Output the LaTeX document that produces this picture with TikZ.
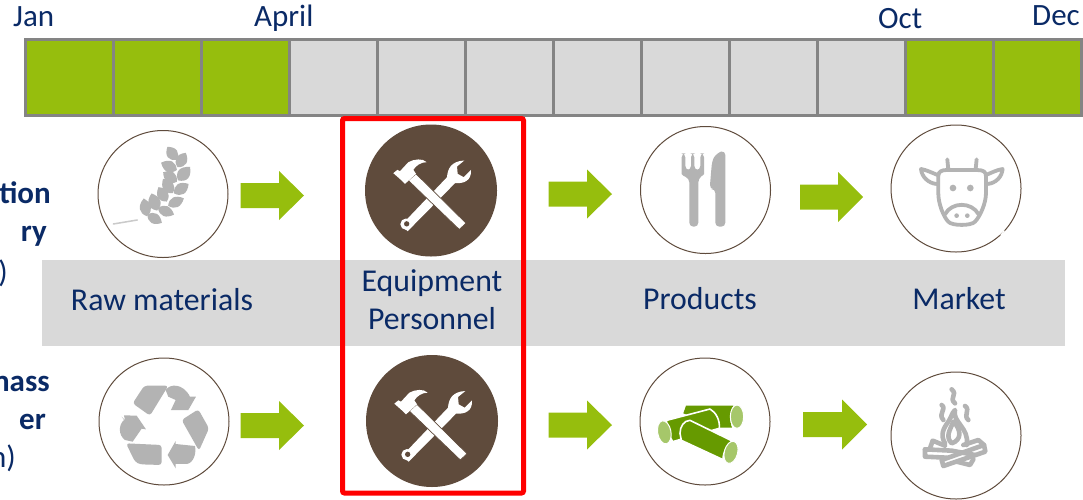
\documentclass[tikz,border=0pt]{standalone}
\usepackage{fontspec}
\usetikzlibrary{shapes.geometric}
\setmainfont{Carlito}
\definecolor{lime}{HTML}{96BE0D}
\definecolor{cellgray}{HTML}{D9D9D9}
\definecolor{cellline}{HTML}{848484}
\definecolor{navy}{HTML}{0A2A66}
\definecolor{brownc}{HTML}{5F4B3C}
\definecolor{icong}{HTML}{B3B3B3}
\definecolor{logd}{HTML}{669A00}
\definecolor{logl}{HTML}{A6C76A}
\tikzset{
 cell/.style={draw=cellline,line width=3pt,minimum width=88pt,minimum height=76pt,inner sep=0pt,outer sep=0pt},
 ring/.style={draw=brownc,line width=1pt,fill=white,ellipse,inner sep=0pt,minimum width=130pt,minimum height=127pt},
 toolc/.style={fill=brownc,circle,inner sep=0pt,minimum size=132pt},
 lab/.style={text=navy,font=\fontsize{31.8}{34}\selectfont,inner sep=0pt},
 mon/.style={text=navy,font=\fontsize{31}{34}\selectfont,inner sep=0pt},
 side/.style={text=navy,font=\fontsize{31}{34}\selectfont\bfseries,inner sep=0pt,anchor=base east},
 sidep/.style={text=navy,font=\fontsize{31}{34}\selectfont,inner sep=0pt,anchor=base east},
 zoomed/.style={x=0.3333pt,y=-0.3333pt},
 gline/.style={draw=icong,line width=3.8pt,line cap=round,line join=round},
 fline/.style={draw=icong,line width=4.6pt,line cap=round,line join=round},
 logbody/.style={fill=logd,draw=white,line width=1.6pt,line join=round},
 logend/.style={fill=logl,draw=white,line width=1pt},
}
\newcommand\blockarrow[6]{% xstart xhead xtip ycentre halfshaft halfhead
 \fill[lime] (#1,#4-#5) -- (#2,#4-#5) -- (#2,#4-#6) -- (#3,#4) -- (#2,#4+#6) -- (#2,#4+#5) -- (#1,#4+#5) -- cycle;}
\newcommand\wgrain[5]{\fill[icong,shift={(#1,#2)},rotate=#3] (-#4,0) .. controls (-0.5*#4,1.75*#5) and (0.3*#4,1.75*#5) .. (#4,0) .. controls (0.3*#4,-1.75*#5) and (-0.5*#4,-1.75*#5) .. (-#4,0) -- cycle;}
\newcommand\toolsicon[2]{%
\begin{scope}[shift={(#1,#2)},zoomed]
 % wrench
 \fill[white] (-90,105) -- (-70,122) -- (72,-22) -- (50,-42) -- cycle;
 \fill[white] (-75,101) circle[radius=17];
 \fill[brownc] (-73,100) circle[radius=8];
 \fill[white] (48,-40) .. controls (50,-65) and (60,-88) .. (100,-90) -- (78,-72) -- (80,-50) -- (98,-40) -- (120,-62) .. controls (122,-30) and (100,-20) .. (70,-22) -- cycle;
 % hammer
 \fill[white,draw=brownc,line width=0.7pt] (-68,-30) -- (-45,-50) -- (105,98) -- (85,117) -- cycle;
 \fill[white] (-113,-52) -- (-101,-62) -- (-93,-58) -- (-68,-85) .. controls (-50,-95) and (-25,-97) .. (-13,-85) .. controls (-30,-85) and (-45,-75) .. (-53,-62) -- (-45,-50) -- (-78,-20) -- (-88,-30) -- cycle;
\end{scope}}
\begin{document}
\begin{tikzpicture}[x=1pt,y=-1pt]
\useasboundingbox (0,0) rectangle (1083,499);
% months
\foreach \i/\c in {0/lime,1/lime,2/lime,3/cellgray,4/cellgray,5/cellgray,6/cellgray,7/cellgray,8/cellgray,9/cellgray,10/lime,11/lime}{
 \node[cell,fill=\c,anchor=north west] (m\i) at ({25+88*\i},39) {};
}
\node[mon,anchor=base west] (jan) at (13,26) {Jan};
\node[mon,anchor=base west] (apr) at (254,26) {April};
\node[mon,anchor=base west] (oct) at (878,28) {Oct};
\node[mon,anchor=base west] (dec) at (1032,25) {Dec};
% grey band
\fill[cellgray] (42,260) rectangle (1065,346);
% side labels
\node[side] (s1) at (51,203) {tion};
\node[side] (s2) at (47,241) {ry};
\node[sidep] (s3) at (8,282) {)};
\node[side] (s4) at (50,391) {mass};
\node[side] (s5) at (46,429) {er};
\node[sidep] (s6) at (16,467) {n)};
% band labels
\node[lab,anchor=base] (raw) at (162,310) {Raw materials};
\node[lab,anchor=base] (eq) at (432,291) {Equipment};
\node[lab,anchor=base] (pe) at (432,329) {Personnel};
\node[lab,anchor=base] (pr) at (700,309) {Products};
\node[lab,anchor=base] (ma) at (959,309) {Market};
% red frame
\draw[red,line width=5pt,rounded corners=2pt] (342.5,118.5) rectangle (523.5,493);
% circles
\node[ring] (wheat) at (163,194) {};
\node[ring] (rec) at (164,421.5) {};
\node[ring] (fork) at (705.5,190) {};
\node[ring] (cow) at (956,188.5) {};
\node[ring] (logs) at (705,421.5) {};
\node[ring] (fire) at (956,435.5) {};
\node[toolc] (t1) at (431,190.5) {};
\node[toolc] (t2) at (432,421) {};
\toolsicon{431}{190.5}
\toolsicon{432}{421}
% block arrows
\blockarrow{240.5}{279}{304}{195.5}{12.5}{24.5}
\blockarrow{240.5}{279}{304}{425.5}{12.5}{24.5}
\blockarrow{548.5}{587}{612}{194}{12.5}{24.5}
\blockarrow{548.5}{587}{612}{425}{12.5}{24.5}
\blockarrow{800}{838}{863}{197}{12.5}{25}
\blockarrow{803}{842}{867}{424.5}{12.5}{25}
% wheat
\begin{scope}[shift={(0,110)},zoomed]
 \wgrain{516}{130}{125}{24}{13}
 \wgrain{545}{150}{60}{25}{13}
 \wgrain{507}{169}{155}{26}{13}
 \wgrain{552}{191}{48}{27}{14}
 \wgrain{510}{201}{145}{25}{13}
 \wgrain{544}{236}{33}{26}{13}
 \wgrain{504}{228}{125}{26}{13}
 \wgrain{488}{253}{120}{25}{13}
 \wgrain{528}{276}{25}{26}{12}
 \wgrain{463}{276}{108}{27}{14}
 \wgrain{498}{304}{-22}{26}{12}
 \wgrain{436}{292}{100}{27}{13}
 \wgrain{464}{326}{-30}{25}{12}
 \draw[icong!70,line width=1.5pt,line cap=round] (340,342) -- (412,330);
\end{scope}
% recycle
\begin{scope}[shift={(0,340)},zoomed]
 \fill[icong,rounded corners=3pt] (433,137) -- (505,137) -- (450,227) -- (398,190) -- cycle;
 \fill[icong] (497,150) .. controls (510,130) and (550,130) .. (570,170) -- (588,170) -- (565,210) -- (513,210) -- (527,180) -- (505,170) -- cycle;
 \fill[icong,rounded corners=3pt] (545,240) -- (595,208) -- (627,265) -- (597,332) -- cycle;
 \fill[icong] (585,318) -- (527,312) -- (527,303) -- (503,345) -- (527,385) -- (527,372) -- (560,372) .. controls (580,370) and (590,340) .. (585,318) -- cycle;
 \fill[icong,rounded corners=3pt] (378,310) -- (485,315) -- (485,375) -- (420,373) -- (405,365) -- cycle;
 \fill[icong] (365,230) -- (375,240) -- (372,226) -- (410,227) -- (438,268) -- (425,266) -- (398,305) -- (375,300) .. controls (355,285) and (355,255) .. (372,240) -- cycle;
\end{scope}
% fork and knife
\begin{scope}[shift={(630,120)},zoomed]
 \fill[icong,rounded corners=4pt] (155,100) -- (166,100) -- (166,150) -- (183,150) -- (183,100) -- (193,100) -- (193,150) -- (211,150) -- (211,100) -- (222,100) -- (222,150) .. controls (222,165) and (212,170) .. (205,175) -- (205,320) -- (178,320) -- (178,175) .. controls (165,170) and (155,165) .. (155,150) -- cycle;
 \fill[icong,rounded corners=4pt] (239,207) -- (246,125) .. controls (255,105) and (270,95) .. (286,93) -- (286,320) -- (256,320) -- (256,207) -- cycle;
\end{scope}
% cow
\begin{scope}[shift={(630,120)},zoomed]
 \draw[gline] (925,168) .. controls (925,155) and (935,150) .. (950,150) -- (1040,150) .. controls (1060,150) and (1068,155) .. (1068,168) -- (1068,220) .. controls (1068,250) and (1050,290) .. (1035,305) .. controls (1025,318) and (965,318) .. (955,305) .. controls (940,290) and (925,250) .. (925,220) -- cycle;
 \draw[gline] (955,148) -- (952,118);
 \draw[gline] (1037,148) -- (1040,118);
 \draw[gline] (923,165) .. controls (905,158) and (890,150) .. (873,147) .. controls (875,170) and (895,190) .. (920,192);
 \draw[gline] (1068,165) .. controls (1085,158) and (1100,150) .. (1118,147) .. controls (1116,170) and (1098,190) .. (1072,192);
 \draw[gline] (945,283) .. controls (965,245) and (1025,245) .. (1046,283);
 \fill[icong] (969,204) circle[radius=10];
 \fill[icong] (1021,204) circle[radius=10];
 \fill[icong] (980,287) circle[radius=7];
 \fill[icong] (1012,287) circle[radius=7];
 \draw[white,line width=1.5pt] (1113,346) -- (1123,332);
\end{scope}
% logs
\begin{scope}[shift={(650,395)},zoomed]
 \fill[logd] (108,32) -- (250,32) .. controls (240,50) and (238,80) .. (246,98) -- (205,98) -- (100,55) -- cycle;
 \draw[logend] (261,65) ellipse[x radius=20,y radius=35];
 \draw[logbody] (50,76) -- (180,42) .. controls (198,52) and (210,75) .. (208,100) -- (68,140) .. controls (56,120) and (48,100) .. (50,76) -- cycle;
 \draw[logend,rotate around={10:(43,112)}] (43,112) ellipse[x radius=20,y radius=35];
 \draw[logbody] (90,115) .. controls (90,95) and (102,76) .. (120,76) -- (247,138) .. controls (230,150) and (220,170) .. (219,194) -- (94,136) -- cycle;
 \draw[logend,rotate around={-15:(243,172)}] (243,172) ellipse[x radius=20,y radius=34];
\end{scope}
% fire
\begin{scope}[shift={(910,380)},zoomed]
 \draw[fline] (60,205) -- (68,182) -- (105,197);
 \draw[fline] (160,195) -- (205,180) -- (222,195);
 \draw[fline] (140,245) -- (180,255) -- (190,238);
 \draw[fline] (45,208) -- (125,212) -- (195,225);
 \draw[fline] (45,208) -- (45,230) -- (110,233);
 \draw[fline] (95,240) -- (222,195) -- (226,215) -- (100,258) -- cycle;
 \draw[fline] (105,190) .. controls (90,165) and (100,145) .. (115,125) .. controls (125,110) and (125,100) .. (135,90) .. controls (125,125) and (180,145) .. (170,195);
 \draw[fline] (125,190) .. controls (105,170) and (120,150) .. (130,125) .. controls (155,150) and (155,180) .. (125,190) -- cycle;
 \draw[fline] (125,28) .. controls (145,45) and (115,52) .. (135,70);
 \draw[fline] (95,75) .. controls (112,88) and (82,100) .. (100,120);
 \draw[fline] (165,78) .. controls (183,90) and (158,105) .. (175,120);
\end{scope}
\end{tikzpicture}
\end{document}
